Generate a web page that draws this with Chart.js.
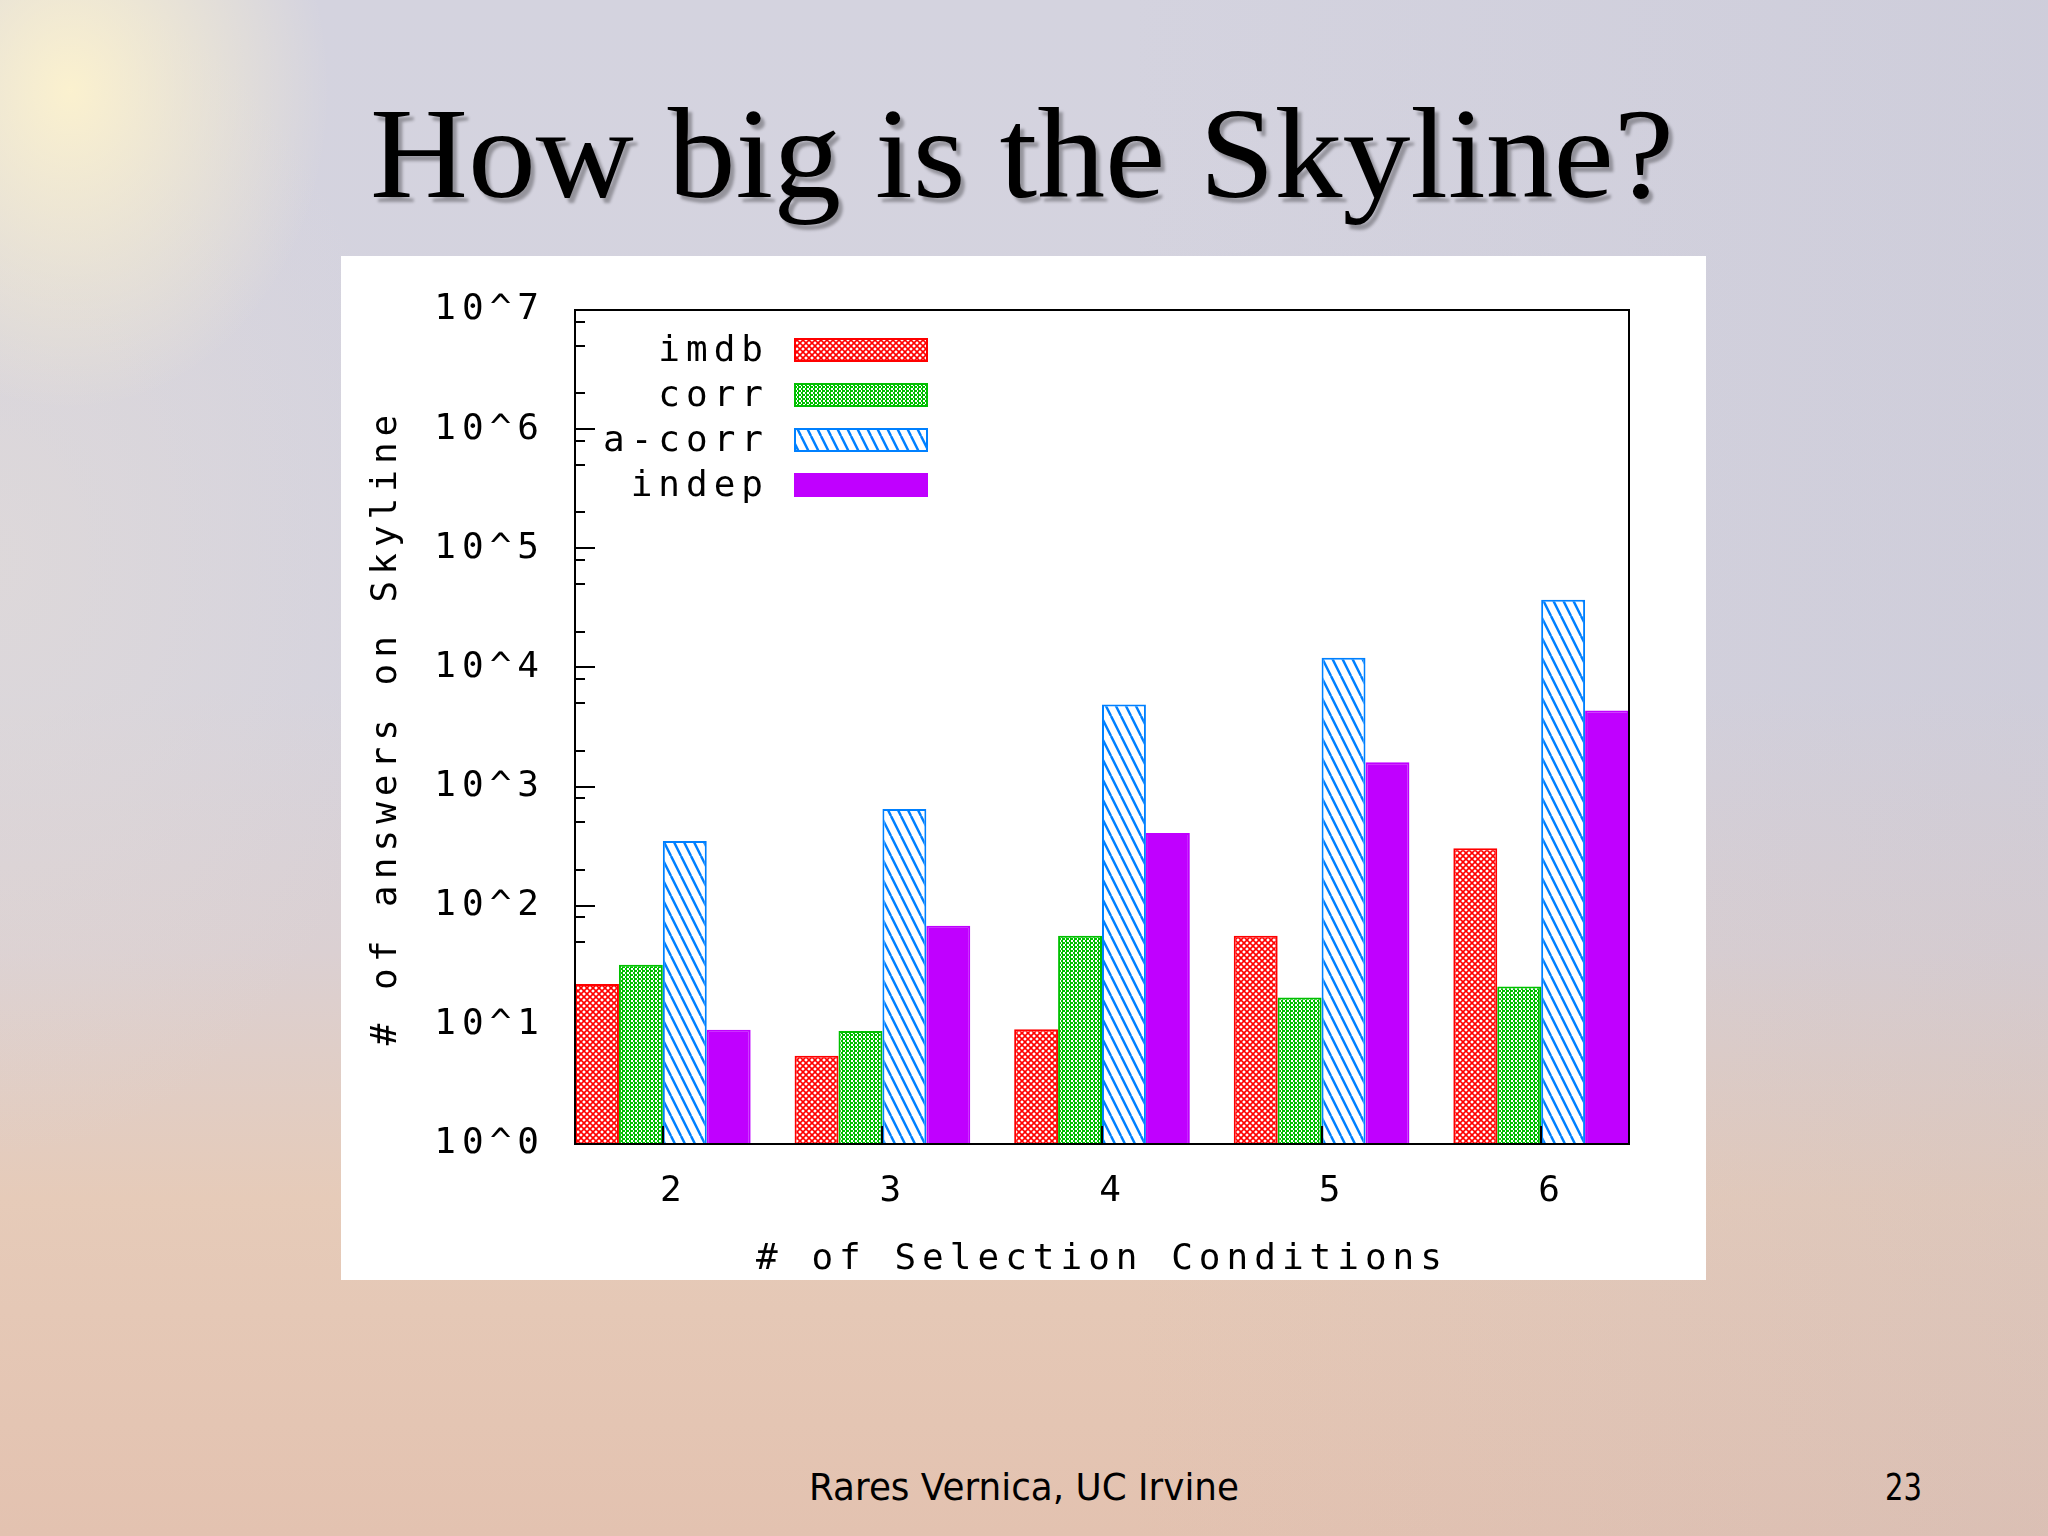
<!DOCTYPE html>
<html>
<head>
<meta charset="utf-8">
<script src="https://cdn.jsdelivr.net/npm/chart.js@4.4.0/dist/chart.umd.min.js"></script>
<style>
  html, body { margin: 0; padding: 0; }
  body {
    width: 2048px; height: 1536px; position: relative; overflow: hidden;
    background:
      radial-gradient(ellipse 260px 320px at 70px 90px, rgba(255,244,205,0.9), rgba(255,244,205,0) 100%),
      radial-gradient(ellipse 420px 600px at 0px 560px, rgba(228,220,214,0.55), rgba(228,220,214,0) 100%),
      linear-gradient(to right, rgba(0,0,0,0) 55%, rgba(180,180,200,0.18) 100%),
      linear-gradient(to bottom, #d4d3df 0%, #d5d3de 45%, #dbd0d2 62%, #e6cbb9 78%, #e3c2b0 100%);
  }
  #title {
    position: absolute; left: 370px; top: 88px;
    font-family: "Liberation Serif", serif; font-size: 130px; line-height: 1;
    white-space: nowrap; transform-origin: 0 0; color: #000;
    text-shadow: 4px 5px 3px rgba(0,0,0,0.3);
  }
  #panel { position: absolute; left: 341px; top: 256px; width: 1365px; height: 1024px; background: #fff; }
  #panel canvas { display: block; }
  .foot {
    position: absolute; top: 1468px; font-family: "DejaVu Sans", sans-serif; font-size: 38px;
    line-height: 1; white-space: nowrap; transform-origin: 0 0; color: #000;
  }
  #author { left: 809px; }
  #page { left: 1885px; }
</style>
</head>
<body>
<div id="title">How big is the Skyline?</div>
<div id="panel"><canvas id="skyline-chart" width="1365" height="1024"></canvas></div>
<div id="author" class="foot">Rares Vernica, UC Irvine</div>
<div id="page" class="foot">23</div>
<script>
const conditions = [2, 3, 4, 5, 6];
const imdb = [22, 5.5, 9.2, 56, 304];
const corr = [32, 8.9, 56, 17, 21];
const aCorr = [349, 648, 4890, 12050, 36900];
const indep = [9.1, 68, 408, 1600, 4340];
const seriesNames = ['imdb', 'corr', 'a-corr', 'indep'];
const yTickValues = [1, 10, 100, 1e3, 1e4, 1e5, 1e6, 1e7];
const yTickLabels = ['10^0', '10^1', '10^2', '10^3', '10^4', '10^5', '10^6', '10^7'];
const yMinorSteps = [2, 5, 8];
const xTitle = '# of Selection Conditions';
const yTitle = '# of answers on Skyline';

const MONO = { family: '"DejaVu Sans Mono", monospace', size: 36, lineHeight: 1 };
const SPACING = 6;

// squeeze html text into the box it has on the slide
const fitWidth = (id, target) => {
  const el = document.getElementById(id);
  const w = el.getBoundingClientRect().width;
  el.style.transform = `scaleX(${target / w})`;
};
fitWidth('title', 1304);
fitWidth('author', 430);
fitWidth('page', 37);

const makePattern = (w, h, draw) => {
  const c = document.createElement('canvas');
  c.width = w; c.height = h;
  const g = c.getContext('2d');
  g.fillStyle = '#fff';
  g.fillRect(0, 0, w, h);
  draw(g);
  return g.createPattern(c, 'repeat');
};

const redHatch = makePattern(6, 6, g => {
  g.strokeStyle = '#ff0000';
  g.lineWidth = 1.6;
  g.beginPath();
  g.moveTo(0, 0); g.lineTo(6, 6);
  g.moveTo(6, 0); g.lineTo(0, 6);
  g.stroke();
});
const greenCheck = makePattern(4, 4, g => {
  g.fillStyle = '#00c000';
  g.fillRect(0, 0, 2, 2);
  g.fillRect(2, 2, 2, 2);
  g.fillRect(1, 0, 1, 4);
});
const blueStripes = makePattern(10, 20, g => {
  g.strokeStyle = '#0080ff';
  g.lineWidth = 2.5;
  g.beginPath();
  [-10, 0, 10].forEach(k => { g.moveTo(k, 0); g.lineTo(k + 10, 20); });
  g.stroke();
});

const toPoints = arr => conditions.map((c, i) => ({ x: c, y: arr[i] }));

const datasets = [
  { label: seriesNames[0], data: toPoints(imdb), backgroundColor: redHatch, borderColor: '#ff0000' },
  { label: seriesNames[1], data: toPoints(corr), backgroundColor: greenCheck, borderColor: '#00c000' },
  { label: seriesNames[2], data: toPoints(aCorr), backgroundColor: blueStripes, borderColor: '#0080ff' },
  { label: seriesNames[3], data: toPoints(indep), backgroundColor: '#c000ff', borderColor: '#c000ff' }
].map(ds => ({ ...ds, borderWidth: 2, borderSkipped: 'start', categoryPercentage: 0.8, barPercentage: 1.0 }));

// gnuplot style: inward ticks, closed border, legend inside the plot
const gnuplotLook = {
  id: 'gnuplotLook',
  beforeDraw(chart) {
    chart.ctx.letterSpacing = SPACING + 'px';
  },
  beforeDatasetsDraw(chart) {
    const { ctx, chartArea: a, scales: { y } } = chart;
    ctx.save();
    ctx.strokeStyle = '#000';
    ctx.lineWidth = 2;
    ctx.beginPath();
    yTickValues.forEach(v => {
      const py = Math.round(y.getPixelForValue(v));
      ctx.moveTo(a.left, py);
      ctx.lineTo(a.left + 20, py);
    });
    yTickValues.slice(0, -1).forEach(base => {
      yMinorSteps.forEach(m => {
        const py = Math.round(y.getPixelForValue(base * m));
        ctx.moveTo(a.left, py);
        ctx.lineTo(a.left + 10, py);
      });
    });
    ctx.stroke();
    ctx.restore();
  },
  afterDatasetsDraw(chart) {
    const { ctx, chartArea: a, scales: { x } } = chart;
    ctx.save();
    ctx.strokeStyle = '#000';
    ctx.lineWidth = 2;
    ctx.strokeRect(Math.round(a.left), Math.round(a.top), Math.round(a.right - a.left), Math.round(a.bottom - a.top));
    ctx.beginPath();
    conditions.forEach(c => {
      const px = Math.round(x.getPixelForValue(c));
      ctx.moveTo(px, a.bottom);
      ctx.lineTo(px, a.bottom - 18);
    });
    ctx.stroke();

    // legend
    ctx.font = `${MONO.size}px ${MONO.family}`;
    ctx.letterSpacing = SPACING + 'px';
    ctx.textAlign = 'right';
    ctx.textBaseline = 'middle';
    chart.data.datasets.forEach((ds, i) => {
      const rowY = a.top + 40 + i * 45;
      ctx.fillStyle = '#000';
      ctx.fillText(ds.label, a.left + 188 + SPACING, rowY + 2);
      ctx.fillStyle = ds.backgroundColor;
      ctx.fillRect(a.left + 220, rowY - 11, 132, 22);
      ctx.strokeStyle = ds.borderColor;
      ctx.lineWidth = 2;
      ctx.strokeRect(a.left + 220, rowY - 11, 132, 22);
    });
    ctx.restore();
  }
};

const ctx = document.getElementById('skyline-chart').getContext('2d');
new Chart(ctx, {
  type: 'bar',
  data: { datasets },
  options: {
    responsive: false,
    animation: false,
    layout: { padding: { top: 54, right: 77, bottom: 0, left: 0 } },
    plugins: { legend: { display: false }, tooltip: { enabled: false } },
    scales: {
      x: {
        type: 'linear',
        min: 1.6,
        max: 6.4,
        offset: false,
        grid: { display: false, drawTicks: false },
        border: { display: false },
        afterBuildTicks: s => { s.ticks = conditions.map(v => ({ value: v })); },
        afterFit: s => { s.height = 136; },
        ticks: { padding: 30, labelOffset: 11, font: MONO, color: '#000', callback: v => String(v), maxRotation: 0 },
        title: { display: true, text: xTitle, font: MONO, color: '#000', padding: { top: 0, bottom: 2 } }
      },
      y: {
        type: 'logarithmic',
        min: 1,
        max: 1e7,
        grid: { display: false, drawTicks: false },
        border: { display: false },
        afterBuildTicks: s => { s.ticks = yTickValues.map(v => ({ value: v })); },
        afterFit: s => { s.width = 234; },
        ticks: { padding: 30, font: MONO, color: '#000', autoSkip: false, callback: (v, i) => yTickLabels[i] },
        title: { display: true, text: yTitle, font: MONO, color: '#000', padding: { top: 28, bottom: 0 } }
      }
    }
  },
  plugins: [gnuplotLook]
});
</script>
</body>
</html>
